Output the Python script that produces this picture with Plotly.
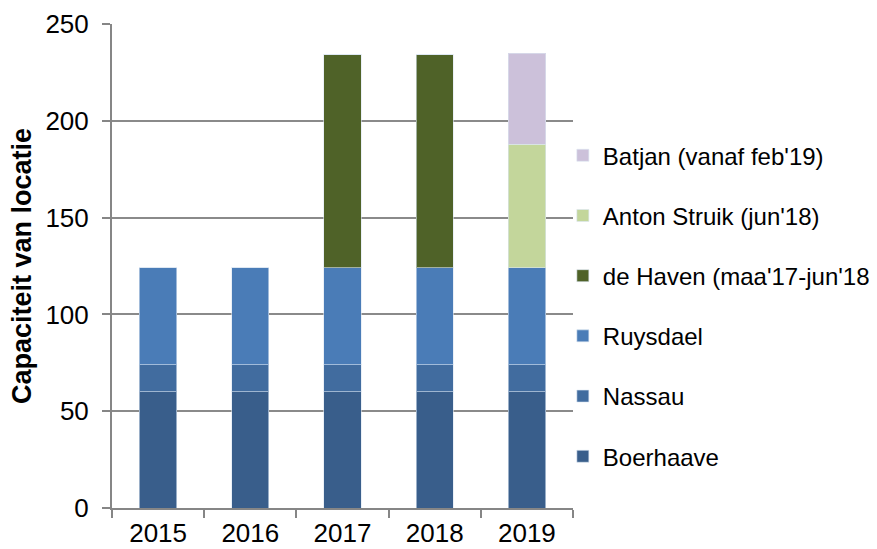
import plotly.graph_objects as go

years = ["2015", "2016", "2017", "2018", "2019"]
series_names = ["Boerhaave", "Nassau", "Ruysdael", "de Haven (maa'17-jun'18)",
                "Anton Struik (jun'18)", "Batjan (vanaf feb'19)"]
boerhaave = [60, 60, 60, 60, 60]
nassau = [14, 14, 14, 14, 14]
ruysdael = [50, 50, 50, 50, 50]
de_haven = [0, 0, 110, 110, 0]
anton_struik = [0, 0, 0, 0, 64]
batjan = [0, 0, 0, 0, 47]
colors = ["#395E8B", "#416C9F", "#4A7CB7", "#4F6228", "#C3D69B", "#CCC1DA"]
y_ticks = [0, 50, 100, 150, 200, 250]
y_title = "Capaciteit van locatie"

values = [boerhaave, nassau, ruysdael, de_haven, anton_struik, batjan]

fig = go.Figure()
n = len(series_names)
for i, (name, vals, col) in enumerate(zip(series_names, values, colors)):
    fig.add_trace(go.Bar(
        x=years, y=vals, name=name, legendgroup=str(i), legendrank=n - i,
        marker=dict(color=col, line=dict(color="rgba(220,230,242,0.6)", width=1)),
    ))

font_family = "Liberation Sans, Arial, sans-serif"
fig.update_layout(
    barmode="stack",
    bargap=0.595,
    width=869, height=541,
    margin=dict(l=104, r=304, t=16, b=41, autoexpand=False),
    plot_bgcolor="white", paper_bgcolor="white",
    font=dict(family=font_family, size=24, color="black"),
    showlegend=True,
    legend=dict(
        traceorder="grouped", tracegroupgap=26,
        x=0.978, xanchor="left", y=0.417, yanchor="middle",
        font=dict(size=24, family=font_family, color="black"),
        itemwidth=30, bgcolor="rgba(0,0,0,0)",
    ),
    xaxis=dict(
        type="category", showgrid=False, automargin=False,
        showline=True, linecolor="#868686", linewidth=2,
        ticks="outside", tickson="boundaries", ticklen=8, tickcolor="#868686", tickwidth=2,
        tickfont=dict(size=26), ticklabelstandoff=1,
    ),
    yaxis=dict(
        range=[0, 250], tickvals=y_ticks, automargin=False,
        showgrid=True, gridcolor="#8A8A8A", gridwidth=2,
        showline=True, linecolor="#868686", linewidth=2,
        ticks="outside", ticklen=8, tickcolor="#868686", tickwidth=2,
        tickfont=dict(size=26), zeroline=False, ticklabelstandoff=8,
    ),
    annotations=[dict(
        text="<b>" + y_title + "</b>", textangle=-90,
        xref="paper", yref="paper", x=-0.195, y=0.5,
        xanchor="center", yanchor="middle", showarrow=False,
        font=dict(size=27, family=font_family, color="black"),
    )],
)

fig.write_html("out.html")
